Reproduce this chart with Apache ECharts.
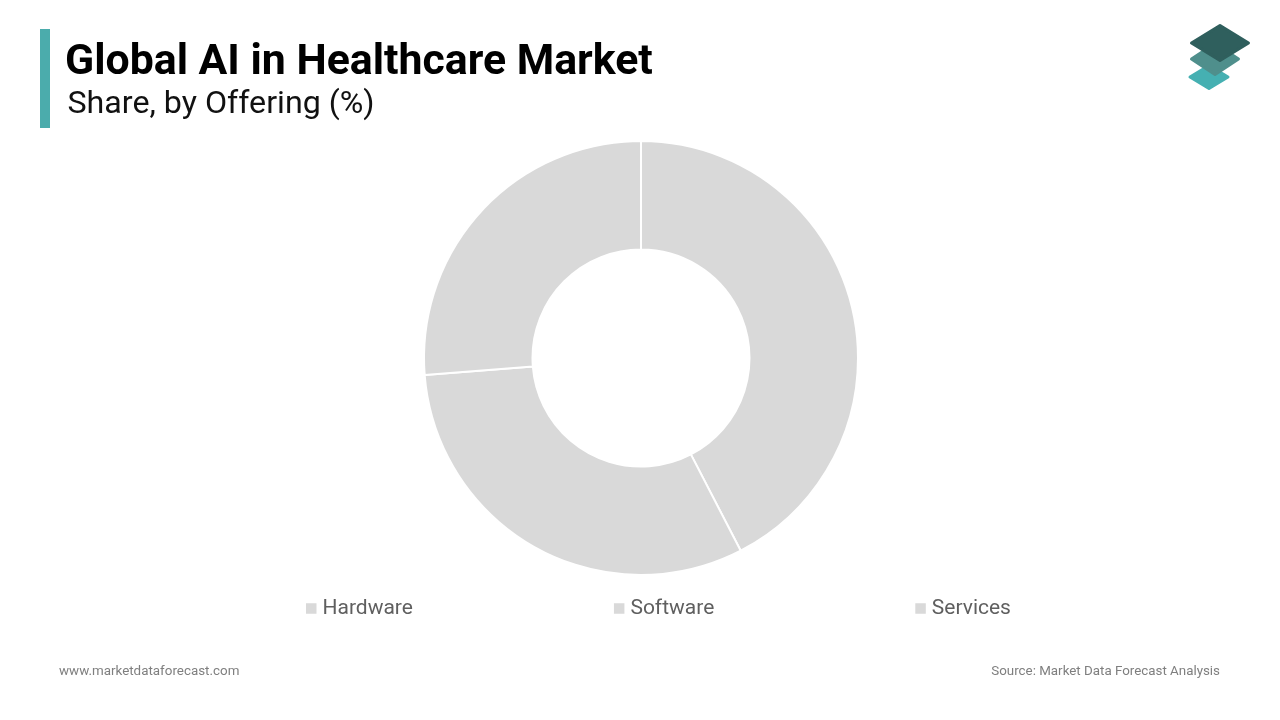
<!DOCTYPE html>
<html><head><meta charset="utf-8">
<style>html,body{margin:0;padding:0;background:#fff}#c{width:1280px;height:720px}</style>
<script src="https://cdn.jsdelivr.net/npm/echarts@6/dist/echarts.min.js"></script>
</head><body><div id="c"></div>
<script>
const categories = ['Hardware','Software','Services'];
const shares = [42.4, 31.35, 26.25];
const sliceColor = '#d9d9d9';
const chart = echarts.init(document.getElementById('c'), null, {renderer:'canvas'});
function diamond(cx, cy, w, h, fill){
  return {type:'polygon', shape:{points:[[cx-w,cy],[cx,cy-h],[cx+w,cy],[cx,cy+h]]}, style:{fill, stroke:fill, lineWidth:3, lineJoin:'round'}};
}
chart.setOption({
  animation:false,
  backgroundColor:'#fff',
  title:[
    {text:'Global AI in Healthcare Market', left:60, top:37, textStyle:{fontFamily:'Roboto', fontSize:42.8, fontWeight:'bold', color:'#000'}},
    {text:'Share, by Offering (%)', left:62.5, top:84, textStyle:{fontFamily:'Roboto', fontSize:32.2, fontWeight:'normal', color:'#111'}},
    {text:'www.marketdataforecast.com', left:54, top:660, textStyle:{fontFamily:'Roboto', fontSize:13.4, fontWeight:'normal', color:'#7f7f7f'}},
    {text:'Source: Market Data Forecast Analysis', right:55, top:660, textStyle:{fontFamily:'Roboto', fontSize:13.35, fontWeight:'normal', color:'#7f7f7f'}}
  ],
  legend:{
    data:categories, left:299, top:593, orient:'horizontal', icon:'rect',
    itemWidth:12.5, itemHeight:12.5, itemGap:199,
    textStyle:{fontFamily:'Roboto', fontSize:21, color:'#5f5f5f'},
    selectedMode:false
  },
  series:[{
    type:'pie', center:[641,358], radius:[108.5,217], startAngle:90, clockwise:true,
    label:{show:false}, labelLine:{show:false}, silent:true,
    itemStyle:{color:sliceColor, borderColor:'#fff', borderWidth:2},
    data:categories.map((name,i)=>({name, value:shares[i]}))
  }],
  graphic:[
    {type:'rect', shape:{x:40,y:29,width:10,height:99}, style:{fill:'#4bacac'}},
    diamond(1209,77,19,11.5,'#45b0b2'),
    diamond(1215,59,23.5,15.5,'#4f8f8c'),
    diamond(1220,43,28.5,17.5,'#2f5f5d')
  ]
});
</script></body></html>
